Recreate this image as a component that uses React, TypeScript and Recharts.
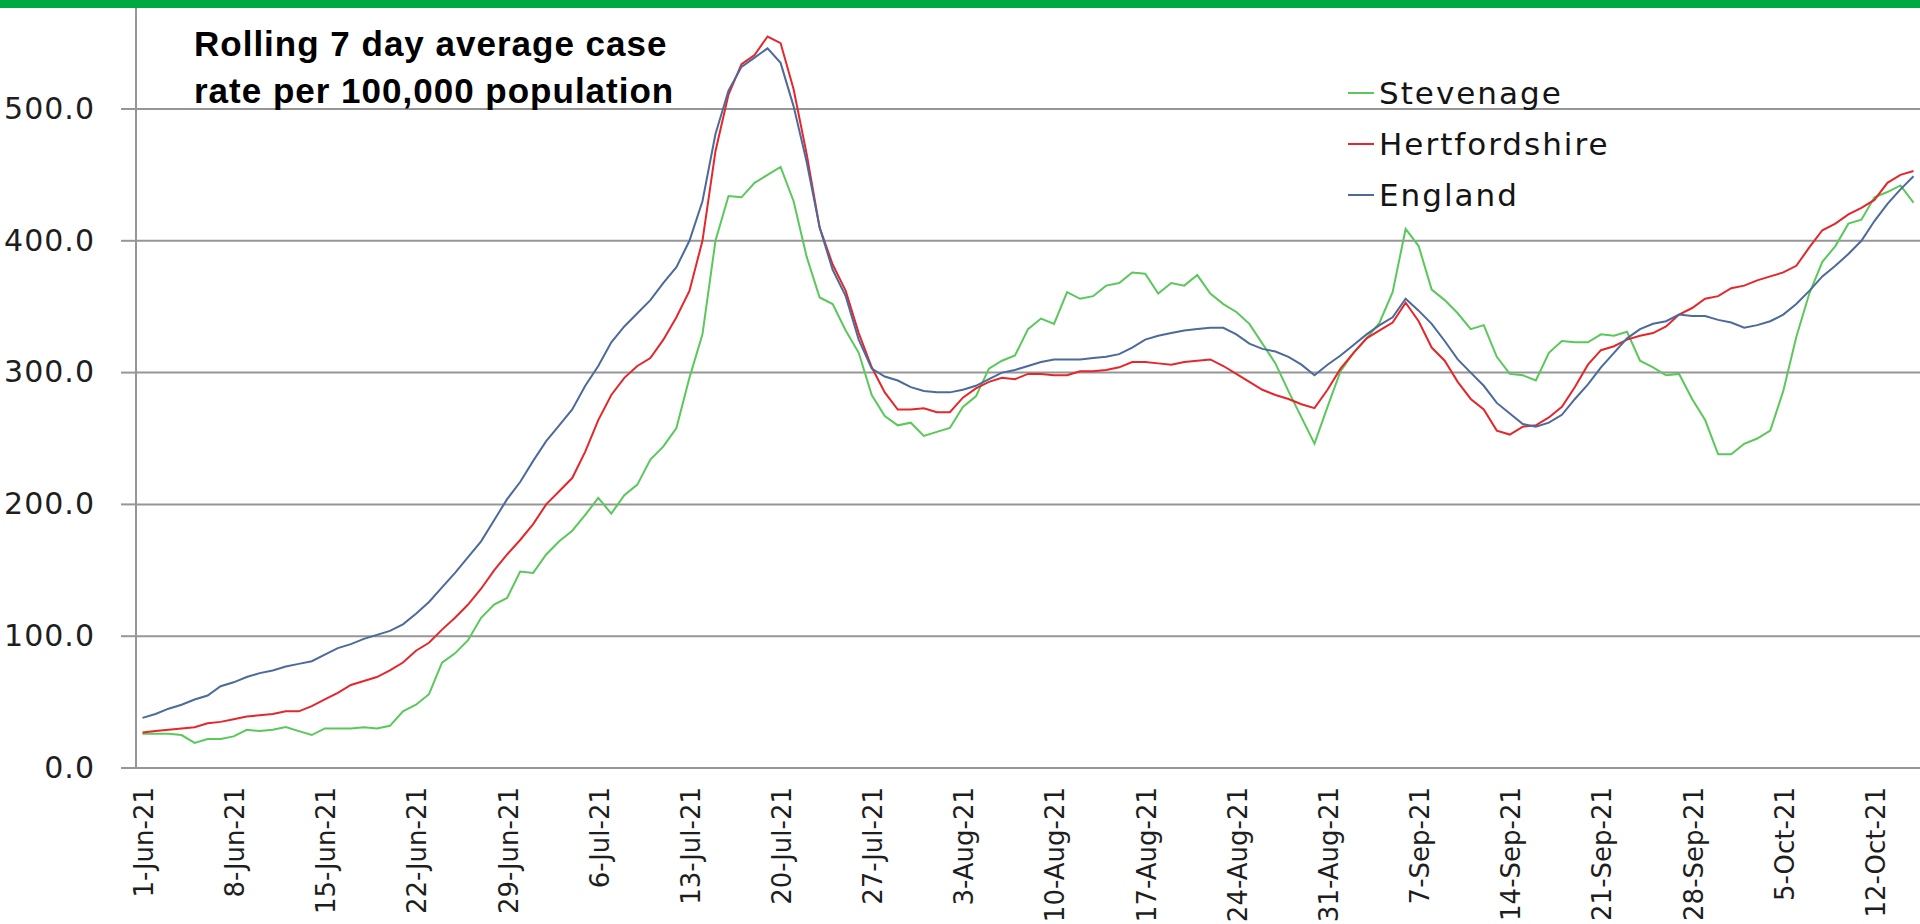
import React from 'react';
import { LineChart, Line, XAxis, YAxis, CartesianGrid, Legend } from 'recharts';

// Weekly tick labels (one every 7 days starting 1-Jun-21)
const weekLabels = [
  '1-Jun-21', '8-Jun-21', '15-Jun-21', '22-Jun-21', '29-Jun-21',
  '6-Jul-21', '13-Jul-21', '20-Jul-21', '27-Jul-21', '3-Aug-21',
  '10-Aug-21', '17-Aug-21', '24-Aug-21', '31-Aug-21', '7-Sep-21',
  '14-Sep-21', '21-Sep-21', '28-Sep-21', '5-Oct-21', '12-Oct-21',
];

const seriesNames = ['Stevenage', 'Hertfordshire', 'England'];

// Daily values 1-Jun-21 .. 15-Oct-21 (137 days)
const stevenage = [
  26, 26, 26, 25, 19, 22, 22, 24, 29, 28,
  29, 31, 28, 25, 30, 30, 30, 31, 30, 32,
  43, 48, 56, 80, 87, 97, 114, 124, 129, 149,
  148, 162, 172, 180, 192, 205, 193, 207, 215, 234,
  244, 258, 296, 329, 400, 434, 433, 444, 450, 456,
  430, 388, 357, 352, 332, 315, 283, 267, 260, 262,
  252, 255, 258, 274, 282, 303, 309, 313, 333, 341,
  337, 361, 356, 358, 366, 368, 376, 375, 360, 368,
  366, 374, 360, 352, 346, 337, 322, 307, 286, 266,
  246, 274, 301, 315, 326, 338, 361, 409, 396, 363,
  355, 345, 333, 336, 312, 299, 298, 294, 315, 324,
  323, 323, 329, 328, 331, 309, 304, 298, 299, 280,
  264, 238, 238, 246, 250, 256, 286, 327, 360, 384,
  396, 413, 416, 433, 437, 442, 429,
];

const hertfordshire = [
  27, 28, 29, 30, 31, 34, 35, 37, 39, 40,
  41, 43, 43, 47, 52, 57, 63, 66, 69, 74,
  80, 89, 95, 105, 114, 124, 136, 150, 162, 173,
  185, 200, 210, 220, 240, 264, 283, 296, 305, 311,
  325, 342, 362, 400, 468, 511, 534, 541, 555, 550,
  515, 466, 410, 382, 362, 330, 304, 285, 272, 272,
  273, 270, 270, 281, 288, 293, 296, 295, 299, 299,
  298, 298, 301, 301, 302, 304, 308, 308, 307, 306,
  308, 309, 310, 305, 299, 293, 287, 283, 280, 276,
  273, 287, 303, 315, 326, 332, 338, 353, 339, 319,
  309, 293, 280, 272, 256, 253, 259, 260, 266, 274,
  289, 306, 317, 320, 325, 328, 330, 335, 344, 349,
  356, 358, 364, 366, 370, 373, 376, 381, 395, 408,
  413, 420, 425, 431, 444, 450, 453,
];

const england = [
  38, 41, 45, 48, 52, 55, 62, 65, 69, 72,
  74, 77, 79, 81, 86, 91, 94, 98, 101, 104,
  109, 117, 126, 137, 148, 160, 172, 188, 204, 217,
  233, 248, 260, 272, 290, 305, 323, 335, 345, 355,
  368, 380, 400, 430, 481, 514, 532, 539, 546, 535,
  502, 460, 410, 378, 358, 325, 303, 297, 294, 289,
  286, 285, 285, 287, 290, 295, 300, 302, 305, 308,
  310, 310, 310, 311, 312, 314, 319, 325, 328, 330,
  332, 333, 334, 334, 329, 322, 318, 316, 312, 306,
  298, 306, 313, 321, 329, 336, 342, 356, 347, 337,
  324, 310, 300, 290, 277, 269, 261, 259, 262, 268,
  280, 291, 304, 315, 326, 333, 337, 339, 344, 343,
  343, 340, 338, 334, 336, 339, 344, 352, 362, 373,
  381, 390, 400, 415, 428, 439, 449,
];

const yTicks = [0, 100, 200, 300, 400, 500];

const data = stevenage.map((s, i) => ({
  day: i,
  Stevenage: s,
  Hertfordshire: hertfordshire[i],
  England: england[i],
}));

const labelTicks = weekLabels.map((_, k) => k * 7);
const boundaryTicks = labelTicks.map((t) => t - 0.5);

const GRID = '#969696';
const FONT = '"DejaVu Sans", Verdana, sans-serif';

const YTick = (props: any) => {
  const { x, y, payload } = props;
  return (
    <text x={x} y={y} dy="0.33em" textAnchor="end" fontFamily={FONT} fontSize={30}
      letterSpacing={1} fill="#1e1e1e">
      {Number(payload.value).toFixed(1)}
    </text>
  );
};

const EmptyTick = () => <g />;

const XLabelTick = (props: any) => {
  const { x, y, payload } = props;
  const k = Math.round(payload.value / 7);
  return (
    <g transform={`translate(${x},${y})`}>
      <text transform="rotate(-90)" x={-19} y={0} dy="0.4em" textAnchor="end"
        fontFamily={FONT} fontSize={26} fill="#1e1e1e">
        {weekLabels[k]}
      </text>
    </g>
  );
};

const LegendContent = (props: any) => {
  const payload = [...(props.payload || [])].sort(
    (a: any, b: any) => seriesNames.indexOf(a.value) - seriesNames.indexOf(b.value)
  );
  return (
    <div>
      {payload.map((e: any) => (
        <div key={e.value} style={{ display: 'flex', alignItems: 'center', height: 51 }}>
          <span style={{ display: 'inline-block', width: 26, height: 2, background: e.color, marginRight: 5 }} />
          <span style={{ fontFamily: FONT, fontSize: 31, letterSpacing: 2, color: '#141414', lineHeight: '51px', whiteSpace: 'nowrap' }}>
            {e.value}
          </span>
        </div>
      ))}
    </div>
  );
};

export default function App() {
  return (
    <div style={{ position: 'absolute', left: 0, top: 0, width: 1920, height: 924, background: '#ffffff', overflow: 'hidden' }}>
      <LineChart width={1920} height={924} data={data} margin={{ top: 0, right: 0, bottom: 0, left: 0 }}>
        <CartesianGrid xAxisId="main" horizontal={true} vertical={false} stroke={GRID} strokeWidth={2} />
        <XAxis
          xAxisId="main"
          type="number"
          dataKey="day"
          domain={[-0.5, 136.5]}
          ticks={boundaryTicks}
          interval={0}
          height={0}
          tickSize={10}
          tick={<EmptyTick />}
          axisLine={{ stroke: GRID, strokeWidth: 2 }}
          tickLine={{ stroke: GRID, strokeWidth: 2 }}
        />
        <XAxis
          xAxisId="labels"
          type="number"
          dataKey="day"
          domain={[-0.5, 136.5]}
          ticks={labelTicks}
          interval={0}
          height={156}
          tickSize={0}
          tickMargin={0}
          axisLine={false}
          tickLine={false}
          tick={<XLabelTick />}
        />
        <YAxis
          type="number"
          domain={[0, 582.7]}
          ticks={yTicks}
          interval={0}
          width={136}
          tickSize={15}
          tickMargin={26}
          tick={<YTick />}
          axisLine={{ stroke: GRID, strokeWidth: 2 }}
          tickLine={{ stroke: GRID, strokeWidth: 2 }}
        />
        <Legend
          layout="vertical"
          align="center"
          verticalAlign="middle"
          content={<LegendContent />}
          wrapperStyle={{ left: 1348, top: 67.6, width: 320, height: 160 }}
        />
        <Line xAxisId="main" type="linear" dataKey="Stevenage" name="Stevenage" stroke="#5ac85a" strokeWidth={2} dot={false} activeDot={false} isAnimationActive={false} />
        <Line xAxisId="main" type="linear" dataKey="Hertfordshire" name="Hertfordshire" stroke="#e5262b" strokeWidth={2} dot={false} activeDot={false} isAnimationActive={false} />
        <Line xAxisId="main" type="linear" dataKey="England" name="England" stroke="#4c6a9c" strokeWidth={2} dot={false} activeDot={false} isAnimationActive={false} />
      </LineChart>
      <div style={{ position: 'absolute', left: 0, top: 0, width: 1920, height: 8, background: '#00a843' }} />
      <div style={{ position: 'absolute', left: 194, top: 21.3, fontFamily: '"Liberation Sans", Arial, sans-serif', fontWeight: 'bold', fontSize: 35, lineHeight: '46.6px', letterSpacing: 1, color: '#000', whiteSpace: 'nowrap' }}>
        <div>Rolling 7 day average case</div>
        <div>rate per 100,000 population</div>
      </div>
    </div>
  );
}
